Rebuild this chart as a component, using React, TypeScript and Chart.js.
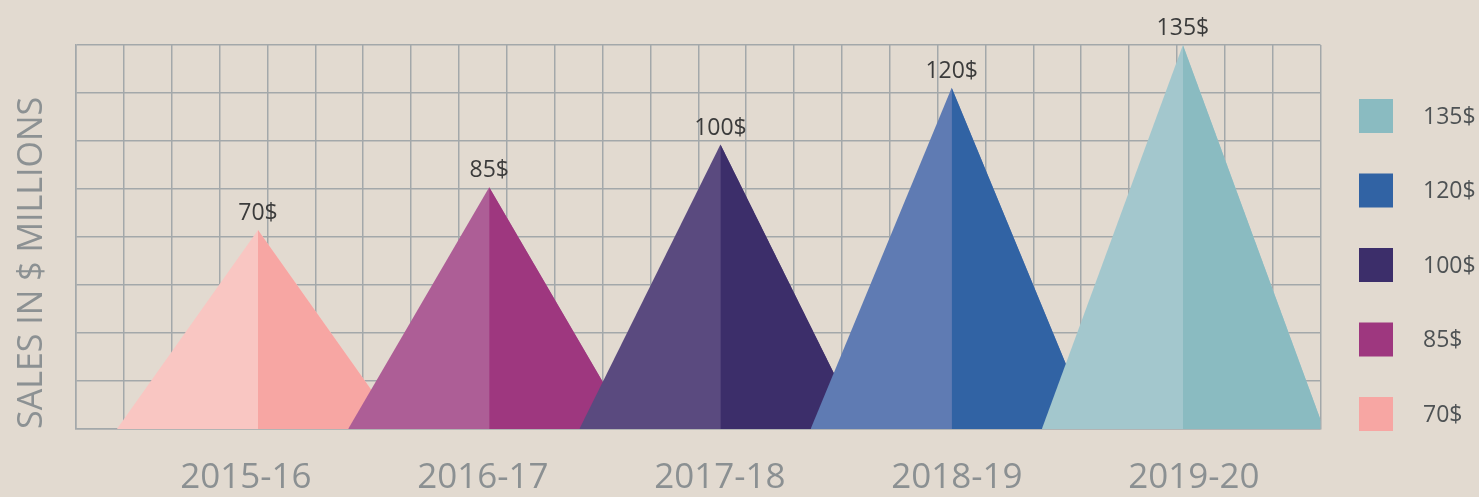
import React, { useEffect, useRef } from 'react';
import { Chart, registerables } from 'chart.js';

Chart.register(...registerables);

// ---- data ----
const CATEGORIES = ['2015-16', '2016-17', '2017-18', '2018-19', '2019-20'];
const SALES = [70, 85, 100, 120, 135];
const VALUE_LABELS = ['70$', '85$', '100$', '120$', '135$'];
const LIGHT_COLORS = ['#F9C6C2', '#AD5E96', '#5A4A7F', '#5F7BB3', '#A3C7CD'];
const DARK_COLORS = ['#F7A6A3', '#9E377F', '#3C2E6A', '#3163A4', '#8ABBC1'];
const Y_TITLE = 'SALES IN $ MILLIONS';

// ---- styling ----
const BG = '#E2DAD0';
const GRID = '#A3A8AA';
const FONT = '"Open Sans", "Noto Sans", sans-serif';
const HALF_WIDTH = 0.61;
const X_MIN = -0.787;
const X_MAX = 4.595;
const LABEL_X_MIN = -0.717;
const LABEL_X_MAX = 4.534;
const Y_MAX = 135;

const overlayPlugin = {
  id: 'overlay',
  afterDatasetsDraw(chart: any) {
    const { ctx, scales } = chart;
    const xs = scales.x;
    const ys = scales.y;
    ctx.save();
    ctx.font = `23px ${FONT}`;
    ctx.fillStyle = '#3B3B3B';
    ctx.textAlign = 'center';
    ctx.textBaseline = 'alphabetic';
    SALES.forEach((v, i) => {
      const px = xs.getPixelForValue(i);
      const py = ys.getPixelForValue(v);
      ctx.fillText(VALUE_LABELS[i], px, py - 10);
    });
    ctx.restore();
  },
  afterDraw(chart: any) {
    const { ctx, chartArea } = chart;
    ctx.save();
    const boxX = chartArea.right + 38.5;
    const top = 99;
    const step = 74.5;
    const size = 34;
    ctx.font = `23px ${FONT}`;
    ctx.textAlign = 'left';
    ctx.textBaseline = 'middle';
    const order = SALES.map((_, i) => i).reverse();
    order.forEach((i, k) => {
      const y = top + k * step;
      ctx.fillStyle = DARK_COLORS[i];
      ctx.fillRect(boxX, y, size, size);
      ctx.fillStyle = '#4E5254';
      ctx.fillText(VALUE_LABELS[i], boxX + 64, y + size / 2 + 1);
    });
    ctx.restore();
  },
};

export default function App() {
  const ref = useRef<HTMLCanvasElement>(null);

  useEffect(() => {
    if (!ref.current) return;
    const N = SALES.length;
    const datasets: any[] = [];
    SALES.forEach((v, i) => {
      datasets.push({
        label: CATEGORIES[i],
        data: [
          { x: i - HALF_WIDTH, y: 0 },
          { x: i, y: v },
          { x: i + HALF_WIDTH, y: 0 },
        ],
        backgroundColor: LIGHT_COLORS[i],
        borderColor: 'rgba(0,0,0,0)',
        borderWidth: 0,
        pointRadius: 0,
        pointHoverRadius: 0,
        tension: 0,
        fill: 'origin',
        order: 2 * (N - i),
      });
      datasets.push({
        label: CATEGORIES[i] + ' shade',
        data: [
          { x: i, y: v },
          { x: i + HALF_WIDTH, y: 0 },
        ],
        backgroundColor: DARK_COLORS[i],
        borderColor: 'rgba(0,0,0,0)',
        borderWidth: 0,
        pointRadius: 0,
        pointHoverRadius: 0,
        tension: 0,
        fill: 'origin',
        order: 2 * (N - i) - 1,
      });
    });

    const chart = new Chart(ref.current, {
      type: 'line',
      data: { datasets },
      options: {
        responsive: true,
        maintainAspectRatio: false,
        animation: false,
        layout: { padding: { left: 0, top: 45, right: 158.5, bottom: 0 } },
        plugins: {
          legend: { display: false },
          tooltip: { enabled: false },
        },
        scales: {
          x: {
            type: 'linear',
            position: 'bottom',
            min: X_MIN,
            max: X_MAX,
            ticks: { display: false, count: 27, maxTicksLimit: 40 },
            grid: { color: GRID, lineWidth: 1.5, drawTicks: false },
            border: { color: GRID, width: 1.5 },
            afterFit: (s: any) => {
              s.height = 0;
            },
          },
          x2: {
            type: 'linear',
            position: 'bottom',
            min: LABEL_X_MIN,
            max: LABEL_X_MAX,
            grid: { display: false, drawTicks: false },
            border: { display: false },
            ticks: {
              autoSkip: false,
              maxRotation: 0,
              padding: 28,
              color: '#8B9092',
              font: { family: FONT, size: 35 },
              callback: (_v: any, idx: number) => CATEGORIES[idx],
            },
            afterBuildTicks: (s: any) => {
              s.ticks = CATEGORIES.map((_, i) => ({ value: i }));
            },
            afterFit: (s: any) => {
              s.height = 68;
            },
          },
          y: {
            type: 'linear',
            position: 'left',
            min: 0,
            max: Y_MAX,
            ticks: { display: false, count: 9 },
            grid: { color: GRID, lineWidth: 1.5, drawTicks: false },
            border: { color: GRID, width: 1.5 },
            title: {
              display: true,
              text: Y_TITLE,
              align: 'start',
              color: '#8C9193',
              font: { family: FONT, size: 34 },
              padding: { top: 12, bottom: 0 },
            },
            afterFit: (s: any) => {
              s.width = 76;
            },
          },
        },
      } as any,
      plugins: [overlayPlugin],
    });
    return () => chart.destroy();
  }, []);

  return (
    <div
      style={{
        position: 'fixed',
        left: 0,
        top: 0,
        width: '100vw',
        height: '100vh',
        background: BG,
      }}
    >
      <canvas ref={ref} />
    </div>
  );
}
